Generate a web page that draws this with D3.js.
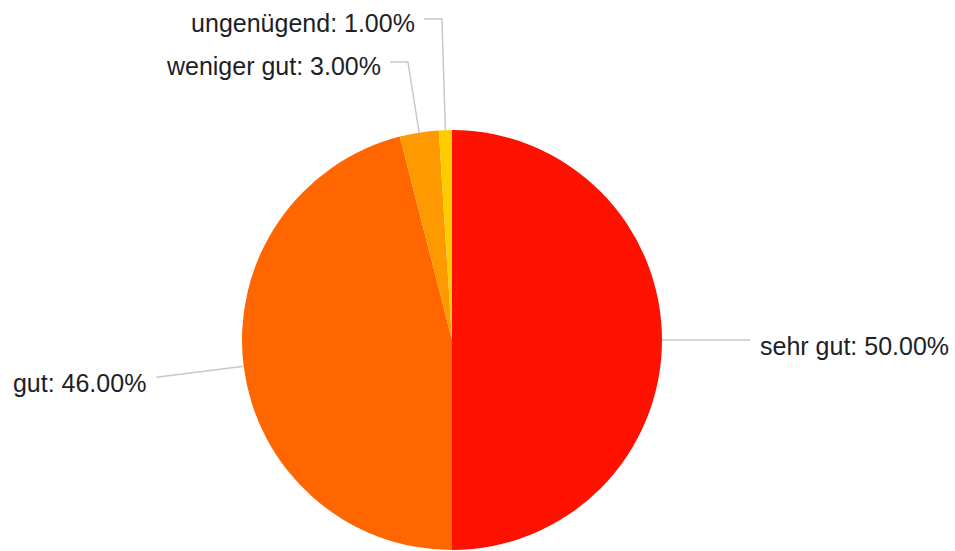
<!DOCTYPE html>
<html>
<head>
<meta charset="utf-8">
<script src="https://cdn.jsdelivr.net/npm/d3@7"></script>
<style>
  html, body { margin: 0; padding: 0; background: #fff; }
  svg { display: block; }
  .label { font-family: "Liberation Sans", Arial, sans-serif; font-size: 25px; fill: #1e1e28; }
  .leader { fill: none; stroke: #c8c8c8; stroke-width: 1.5; }
</style>
</head>
<body>
<svg id="chart" width="955" height="551"></svg>
<script>
'use strict';

var categories = ["sehr gut", "gut", "weniger gut", "ungenügend"];
var values = [50, 46, 3, 1];
var colors = ["#ff1100", "#ff6600", "#ff9900", "#ffcc00"];

var width = 955, height = 551;
var cx = 452, cy = 340, radius = 210;

// label placement: side labels run out radially, small slices stack at the top
var sideLength = 88;
var topRows = { "weniger gut": 62, "ungenügend": 19 };

var data = categories.map(function (c, i) {
  return { name: c, value: values[i], color: colors[i] };
});
var total = d3.sum(values);
var fmt = d3.format(".2f");

var pie = d3.pie().sort(null).value(function (d) { return d.value; });
var arc = d3.arc().innerRadius(0).outerRadius(radius);

var svg = d3.select("#chart");
var g = svg.append("g").attr("transform", "translate(" + cx + "," + cy + ")");

var arcs = pie(data);

g.selectAll("path.slice")
  .data(arcs)
  .enter().append("path")
    .attr("class", "slice")
    .attr("d", arc)
    .attr("fill", function (d) { return d.data.color; });

var labels = g.selectAll("g.lbl")
  .data(arcs)
  .enter().append("g")
    .attr("class", "lbl");

labels.each(function (d) {
  var el = d3.select(this);
  var a = (d.startAngle + d.endAngle) / 2;
  var sx = Math.sin(a), sy = -Math.cos(a);
  var p0 = [radius * sx, radius * sy];
  var text = d.data.name + ": " + fmt(d.data.value / total * 100) + "%";
  var pts, tx, ty, anchor;

  if (topRows[d.data.name] !== undefined) {
    var rowY = topRows[d.data.name] - cy;
    var t = rowY / sy;
    var p1 = [t * sx, rowY];
    var p2 = [p1[0] - 18, rowY];
    pts = [p0, p1, p2];
    tx = p2[0] - 9;
    ty = rowY + 4;
    anchor = "end";
  } else {
    var p1s = [(radius + sideLength) * sx, (radius + sideLength) * sy];
    pts = [p0, p1s];
    var right = sx > 0;
    tx = p1s[0] + (right ? 10 : -10);
    ty = p1s[1] + 6;
    anchor = right ? "start" : "end";
  }

  el.append("path")
    .attr("class", "leader")
    .attr("d", d3.line()(pts));

  el.append("text")
    .attr("class", "label")
    .attr("x", tx)
    .attr("y", ty)
    .attr("dy", "0.35em")
    .attr("text-anchor", anchor)
    .text(text);
});
</script>
</body>
</html>
